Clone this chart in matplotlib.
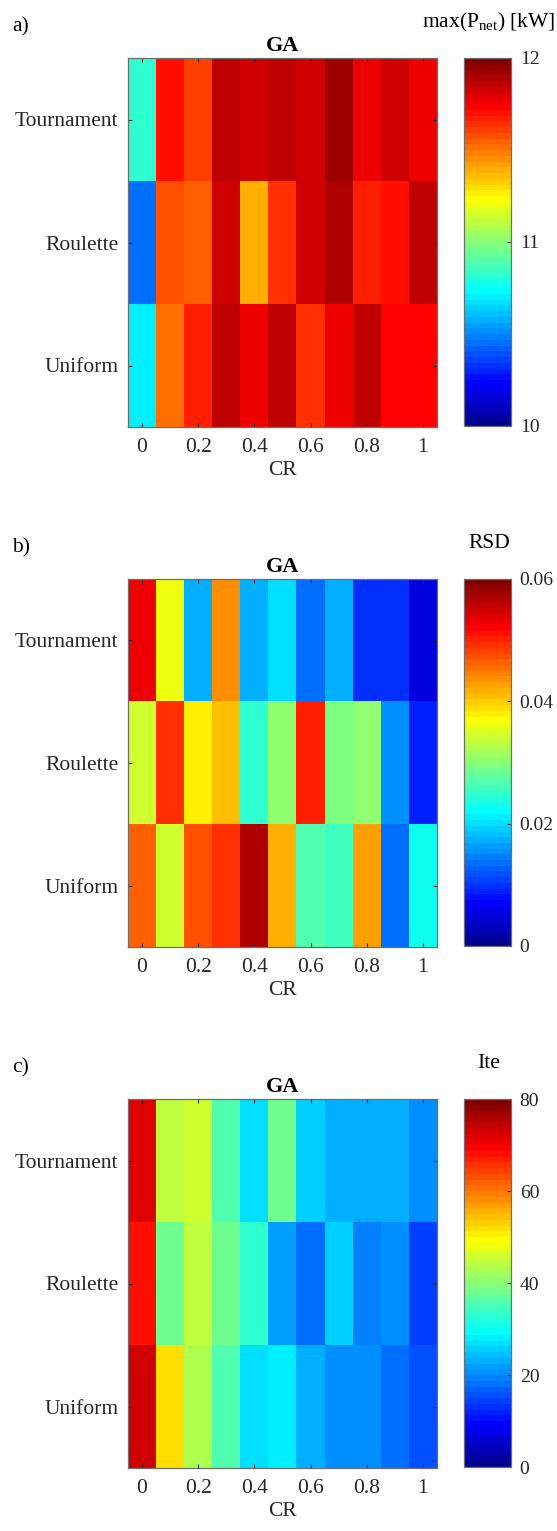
import numpy as np
import matplotlib
matplotlib.use("Agg")
import matplotlib.pyplot as plt
from matplotlib.colors import ListedColormap

plt.rcParams['font.family'] = ['Liberation Serif', 'DejaVu Serif']
plt.rcParams['mathtext.fontset'] = 'custom'
plt.rcParams['mathtext.rm'] = 'Liberation Serif'
plt.rcParams['mathtext.it'] = 'Liberation Serif:italic'
plt.rcParams['mathtext.bf'] = 'Liberation Serif:bold'

cr_values = [0.0, 0.1, 0.2, 0.3, 0.4, 0.5, 0.6, 0.7, 0.8, 0.9, 1.0]
cr_ticks = [0, 0.2, 0.4, 0.6, 0.8, 1]
cr_ticklabels = ['0', '0.2', '0.4', '0.6', '0.8', '1']
selections = ['Tournament', 'Roulette', 'Uniform']

pnet_tournament = [10.83, 11.715, 11.62, 11.85, 11.82, 11.86, 11.82, 11.93, 11.78, 11.84, 11.78]
pnet_roulette = [10.44, 11.59, 11.56, 11.82, 11.38, 11.65, 11.82, 11.88, 11.685, 11.715, 11.85]
pnet_uniform = [10.71, 11.53, 11.685, 11.85, 11.78, 11.85, 11.65, 11.78, 11.85, 11.735, 11.735]

rsd_tournament = [0.0534, 0.0364, 0.0173, 0.0432, 0.0177, 0.0205, 0.0135, 0.0177, 0.0100, 0.0100, 0.0053]
rsd_roulette = [0.0338, 0.0495, 0.0375, 0.0405, 0.0245, 0.0308, 0.0506, 0.0293, 0.0300, 0.0150, 0.0090]
rsd_uniform = [0.0460, 0.0338, 0.0478, 0.0488, 0.0563, 0.0414, 0.0270, 0.0255, 0.0425, 0.0140, 0.0225]

ite_tournament = [72.0, 44.0, 45.0, 35.4, 27.4, 38.0, 26.0, 23.6, 23.6, 23.6, 21.0]
ite_roulette = [68.6, 38.0, 44.0, 38.6, 32.6, 22.4, 18.6, 25.0, 18.8, 21.0, 14.0]
ite_uniform = [73.0, 52.0, 42.6, 35.4, 27.4, 28.6, 23.6, 20.0, 20.0, 18.6, 15.0]

panels = [
    ('a)', [pnet_tournament, pnet_roulette, pnet_uniform], (10, 12), [10, 11, 12], ['10', '11', '12'],
     r'max(P$_{\mathrm{net}}$) [kW]', 58, 427),
    ('b)', [rsd_tournament, rsd_roulette, rsd_uniform], (0, 0.06), [0, 0.02, 0.04, 0.06], ['0', '0.02', '0.04', '0.06'],
     'RSD', 579, 947),
    ('c)', [ite_tournament, ite_roulette, ite_uniform], (0, 80), [0, 20, 40, 60, 80], ['0', '20', '40', '60', '80'],
     'Ite', 1099, 1468),
]


def matlab_jet(n=64):
    m = int(np.ceil(n / 4))
    u = np.concatenate([np.arange(1, m + 1) / m, np.ones(m - 1), np.arange(m, 0, -1) / m])
    g = int(np.ceil(m / 2)) - (1 if n % 4 == 1 else 0) + np.arange(1, len(u) + 1)
    r = g + m
    b = g - m
    g = g[g <= n]
    r = r[r <= n]
    b = b[b >= 1]
    J = np.zeros((n, 3))
    J[r - 1, 0] = u[:len(r)]
    J[g - 1, 1] = u[:len(g)]
    J[b - 1, 2] = u[len(u) - len(b):]
    return ListedColormap(J)


W, H = 557, 1531
fig = plt.figure(figsize=(W / 100, H / 100), dpi=100)
cmap = matlab_jet(64)
tc = '#262626'
sc = '#6e6e6e'
fs = 15.5
cfs = 14

for label, rows, clim, cticks, cticklabels, clabel, top, bot in panels:
    data = np.array(rows)
    ax = fig.add_axes([128 / W, 1 - bot / H, 309 / W, (bot - top) / H])
    step = cr_values[1] - cr_values[0]
    im = ax.imshow(data, cmap=cmap, vmin=clim[0], vmax=clim[1], aspect='auto',
                   interpolation='nearest',
                   extent=[cr_values[0] - step / 2, cr_values[-1] + step / 2, len(selections) - 0.5, -0.5])
    ax.set_xticks(cr_ticks)
    ax.set_xticklabels(cr_ticklabels)
    ax.set_yticks(range(len(selections)))
    ax.set_yticklabels(selections)
    ax.tick_params(direction='in', length=3, width=0.8, colors=tc, labelsize=fs,
                   top=True, right=True, pad=8)
    ax.tick_params(axis='y', pad=7)
    for s in ax.spines.values():
        s.set_color(sc)
        s.set_linewidth(0.9)
    ax.set_xlabel('CR', fontsize=fs, color=tc, labelpad=3)
    ax.set_title('GA', fontsize=16, fontweight='bold', pad=5)

    cax = fig.add_axes([464 / W, 1 - (bot - 1) / H, 47 / W, (bot - top - 1) / H])
    cb = fig.colorbar(im, cax=cax)
    cb.set_ticks(cticks)
    cb.set_ticklabels(cticklabels)
    cax.tick_params(direction='in', length=3, width=0.8, colors=tc, labelsize=cfs, pad=6.3)
    cb.outline.set_edgecolor(sc)
    cb.outline.set_linewidth(0.9)
    fig.text(489 / W, 1 - (top - 31) / H, clabel, fontsize=fs, ha='center', va='baseline', color='black')
    fig.text(12 / W, 1 - (top - 27) / H, label, fontsize=fs, ha='left', va='baseline', color='black')

fig.savefig('out.png', dpi=100)
